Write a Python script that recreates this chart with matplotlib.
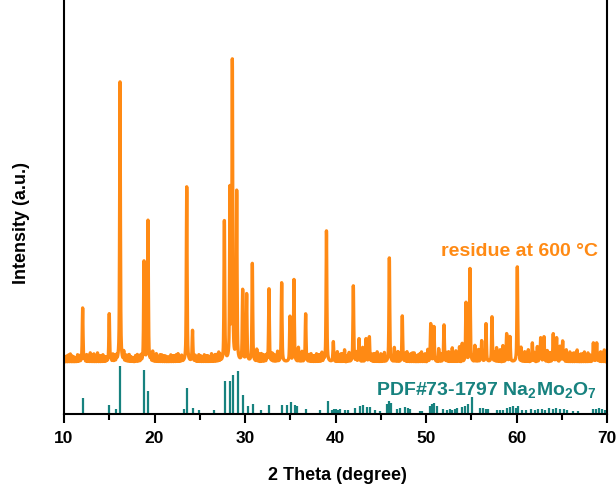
import numpy as np
import matplotlib
matplotlib.use("Agg")
import matplotlib.pyplot as plt

plt.rcParams['font.family'] = ['Liberation Sans', 'DejaVu Sans']
plt.rcParams['font.weight'] = 'bold'
plt.rcParams['mathtext.default'] = 'regular'

ORANGE = '#ff8a14'
TEAL = '#17827f'

# measured pattern: main reflections (2theta, height above baseline)
peak_pos = [12.06, 15.0, 16.19, 18.84, 19.28, 23.56, 24.2, 27.72, 28.34, 28.6,
            29.08, 29.74, 30.18, 30.81, 32.65, 34.05, 34.97, 35.41, 36.7, 39.0,
            39.76, 41.97, 42.6, 43.37, 43.74, 45.95, 47.38, 50.52, 50.88, 51.99,
            54.42, 54.86, 56.15, 56.63, 57.29, 58.91, 59.28, 60.09, 61.75, 62.67,
            63.04, 64.06, 64.43, 65.1, 68.49, 68.86]
peak_h = [54, 48, 280, 100, 141, 175, 31, 140, 169, 298,
          169, 71, 67, 98, 73, 79, 45, 82, 48, 131,
          20, 76, 23, 23, 25, 104, 46, 38, 35, 37,
          59, 93, 21, 38, 45, 28, 25, 95, 19, 24,
          25, 28, 24, 21, 19, 19]

# small bumps that make up the noisy baseline
bump_pos = [10.3, 10.7, 11.1, 11.5, 12.5, 12.9, 13.3, 13.7, 14.1, 14.5,
            15.4, 15.8, 16.6, 17.0, 17.4, 17.9, 18.3, 19.8, 20.2, 20.6,
            21.0, 21.4, 21.8, 22.2, 22.6, 23.0, 24.7, 25.1, 25.5, 25.9,
            26.3, 26.7, 27.1, 31.3, 31.8, 32.2, 33.2, 33.6, 35.9, 36.3,
            37.3, 37.7, 38.1, 38.5, 40.2, 40.6, 41.0, 41.5, 43.0, 44.2,
            44.6, 45.0, 45.4, 46.5, 46.9, 47.9, 48.3, 48.7, 49.1, 49.5,
            49.9, 50.2, 51.4, 52.5, 52.9, 53.3, 53.7, 54.0, 55.4, 55.8,
            57.8, 58.2, 58.5, 60.5, 60.9, 61.3, 62.3, 63.4, 64.8, 65.5,
            65.9, 66.3, 66.7, 67.1, 67.5, 67.9, 69.3, 69.7]
bump_h = [6, 8, 5, 7, 7, 9, 8, 9, 6, 5,
          7, 5, 9, 6, 5, 6, 5, 10, 8, 7,
          6, 5, 7, 6, 8, 6, 5, 6, 7, 6,
          8, 7, 9, 12, 8, 6, 7, 10, 14, 10,
          8, 6, 7, 9, 10, 8, 12, 9, 14, 8,
          10, 8, 9, 14, 10, 10, 8, 9, 7, 10,
          8, 12, 13, 10, 14, 11, 15, 18, 16, 12,
          14, 12, 16, 14, 10, 12, 15, 11, 15, 12,
          10, 9, 12, 8, 10, 9, 10, 12]

# finer ripple between the bumps
ripple_pos = [10.1, 10.5, 10.9, 11.3, 11.7, 12.3, 12.7, 13.1, 13.5, 13.9,
              14.3, 14.7, 15.2, 15.6, 16.8, 17.2, 17.6, 18.1, 18.5, 19.6,
              20.0, 20.4, 20.8, 21.2, 21.6, 22.0, 22.4, 22.8, 24.5, 24.9,
              25.3, 25.7, 26.1, 26.5, 26.9, 27.3, 31.5, 32.0, 32.4, 33.0,
              33.4, 36.1, 37.1, 37.5, 37.9, 38.3, 38.7, 40.4, 40.8, 41.3,
              42.3, 44.0, 44.4, 44.8, 45.2, 46.7, 47.7, 48.1, 48.5, 48.9,
              49.3, 49.7, 51.6, 52.3, 52.7, 53.1, 53.5, 55.6, 56.0, 57.6,
              58.0, 60.3, 60.7, 61.1, 62.0, 62.5, 63.7, 64.9, 65.3, 65.7,
              66.1, 66.5, 66.9, 67.3, 67.7, 68.1, 69.1, 69.5, 69.9]
ripple_h = [5, 7, 6, 4, 6, 5, 6, 7, 5, 6,
            7, 4, 5, 6, 6, 7, 4, 7, 6, 7,
            6, 5, 7, 6, 5, 6, 7, 5, 6, 7,
            5, 6, 5, 6, 7, 6, 8, 7, 6, 8,
            6, 8, 7, 6, 8, 7, 6, 7, 8, 6,
            9, 7, 8, 6, 7, 9, 8, 7, 9, 6,
            8, 7, 8, 9, 7, 8, 9, 10, 8, 9,
            8, 9, 7, 8, 9, 8, 9, 9, 8, 7,
            8, 9, 7, 8, 6, 7, 8, 9, 8]

baseline = 52

# PDF#73-1797 reference sticks
ref_pos = [12.06, 15.0, 15.74, 16.22, 18.88, 19.32, 23.26, 23.59, 24.29, 24.95,
           26.57, 27.75, 28.38, 28.64, 29.23, 29.82, 30.3, 30.92, 31.73, 32.69,
           34.09, 34.6, 35.05, 35.49, 35.78, 36.74, 38.29, 39.14, 39.6, 39.8,
           40.0, 40.3, 40.5, 41.05, 41.4, 42.15, 42.7, 43.0, 43.5, 43.8,
           44.4, 44.9, 45.7, 45.9, 46.1, 46.76, 47.1, 47.7, 48.0, 48.2,
           49.3, 49.6, 50.4, 50.7, 50.9, 51.2, 51.9, 52.3, 52.6, 52.9,
           53.2, 53.4, 54.0, 54.3, 54.6, 55.1, 56.0, 56.3, 56.6, 56.9,
           57.8, 58.2, 58.5, 59.0, 59.3, 59.6, 59.9, 60.2, 60.6, 61.1,
           61.6, 62.0, 62.4, 62.8, 63.2, 63.6, 64.0, 64.4, 64.8, 65.2,
           65.6, 66.2, 66.8, 68.5, 68.8, 69.1, 69.5, 69.8]
ref_h = [16, 9, 5, 48, 44, 23, 5, 26, 6, 4,
         4, 33, 33, 39, 43, 19, 8, 10, 4, 9,
         9, 9, 12, 9, 8, 5, 4, 13, 4, 5,
         5, 4, 5, 4, 4, 6, 8, 9, 7, 7,
         4, 3, 10, 13, 11, 5, 6, 7, 6, 5,
         3, 3, 8, 10, 11, 8, 5, 4, 5, 4,
         5, 6, 7, 8, 10, 17, 6, 6, 5, 5,
         4, 4, 4, 6, 7, 8, 6, 8, 4, 4,
         5, 4, 5, 5, 4, 6, 5, 6, 5, 5,
         4, 3, 3, 5, 5, 6, 5, 4]

# build the measured curve from the read peaks
tt = np.arange(10.0, 70.0, 0.01)
y = np.full_like(tt, float(baseline))
for p, h in zip(peak_pos, peak_h):
    y += h * (0.6 / (1 + ((tt - p) / 0.05) ** 2) + 0.4 * np.exp(-((tt - p) / 0.06) ** 2))
for p, h in zip(bump_pos + ripple_pos, bump_h + ripple_h):
    y += h * np.exp(-((tt - p) / 0.05) ** 2)

fig = plt.figure(figsize=(6.16, 4.85), dpi=100)
ax = fig.add_axes([64 / 616, 70 / 485, 543 / 616, 415 / 485])

ax.plot(tt, y, color=ORANGE, lw=2.4)
ax.vlines(ref_pos, 0, ref_h, color=TEAL, lw=1.6)

ax.set_xlim(10, 70)
ax.set_ylim(0, 415)
ax.set_xticks(np.arange(10, 71, 10))
ax.set_xticks(np.arange(15, 70, 10), minor=True)
ax.set_yticks([])
ax.spines['top'].set_visible(False)
for s in ['left', 'right', 'bottom']:
    ax.spines[s].set_linewidth(1.5)
ax.tick_params(axis='x', which='major', direction='out', length=6.5, width=1.5,
               pad=5, labelsize=12.5)
ax.tick_params(axis='x', which='minor', direction='out', length=4, width=1.5)
for lab in ax.get_xticklabels():
    lab.set_fontweight('bold')

ax.text(69.0, 159, u'residue at 600 \u00b0C', color=ORANGE, fontsize=14,
        fontweight='bold', ha='right', va='baseline')
ax.text(68.9, 20, 'PDF#73-1797 Na$_2$Mo$_2$O$_7$', color=TEAL, fontsize=14,
        fontweight='bold', ha='right', va='baseline')

fig.text(337 / 616, 1 - 480 / 485, '2 Theta (degree)', fontsize=13,
         fontweight='bold', ha='center', va='baseline')
fig.text(22 / 616, 1 - 223 / 485, 'Intensity (a.u.)', fontsize=13,
         fontweight='bold', ha='center', va='center', rotation=90)

fig.savefig('out.png', dpi=100)
